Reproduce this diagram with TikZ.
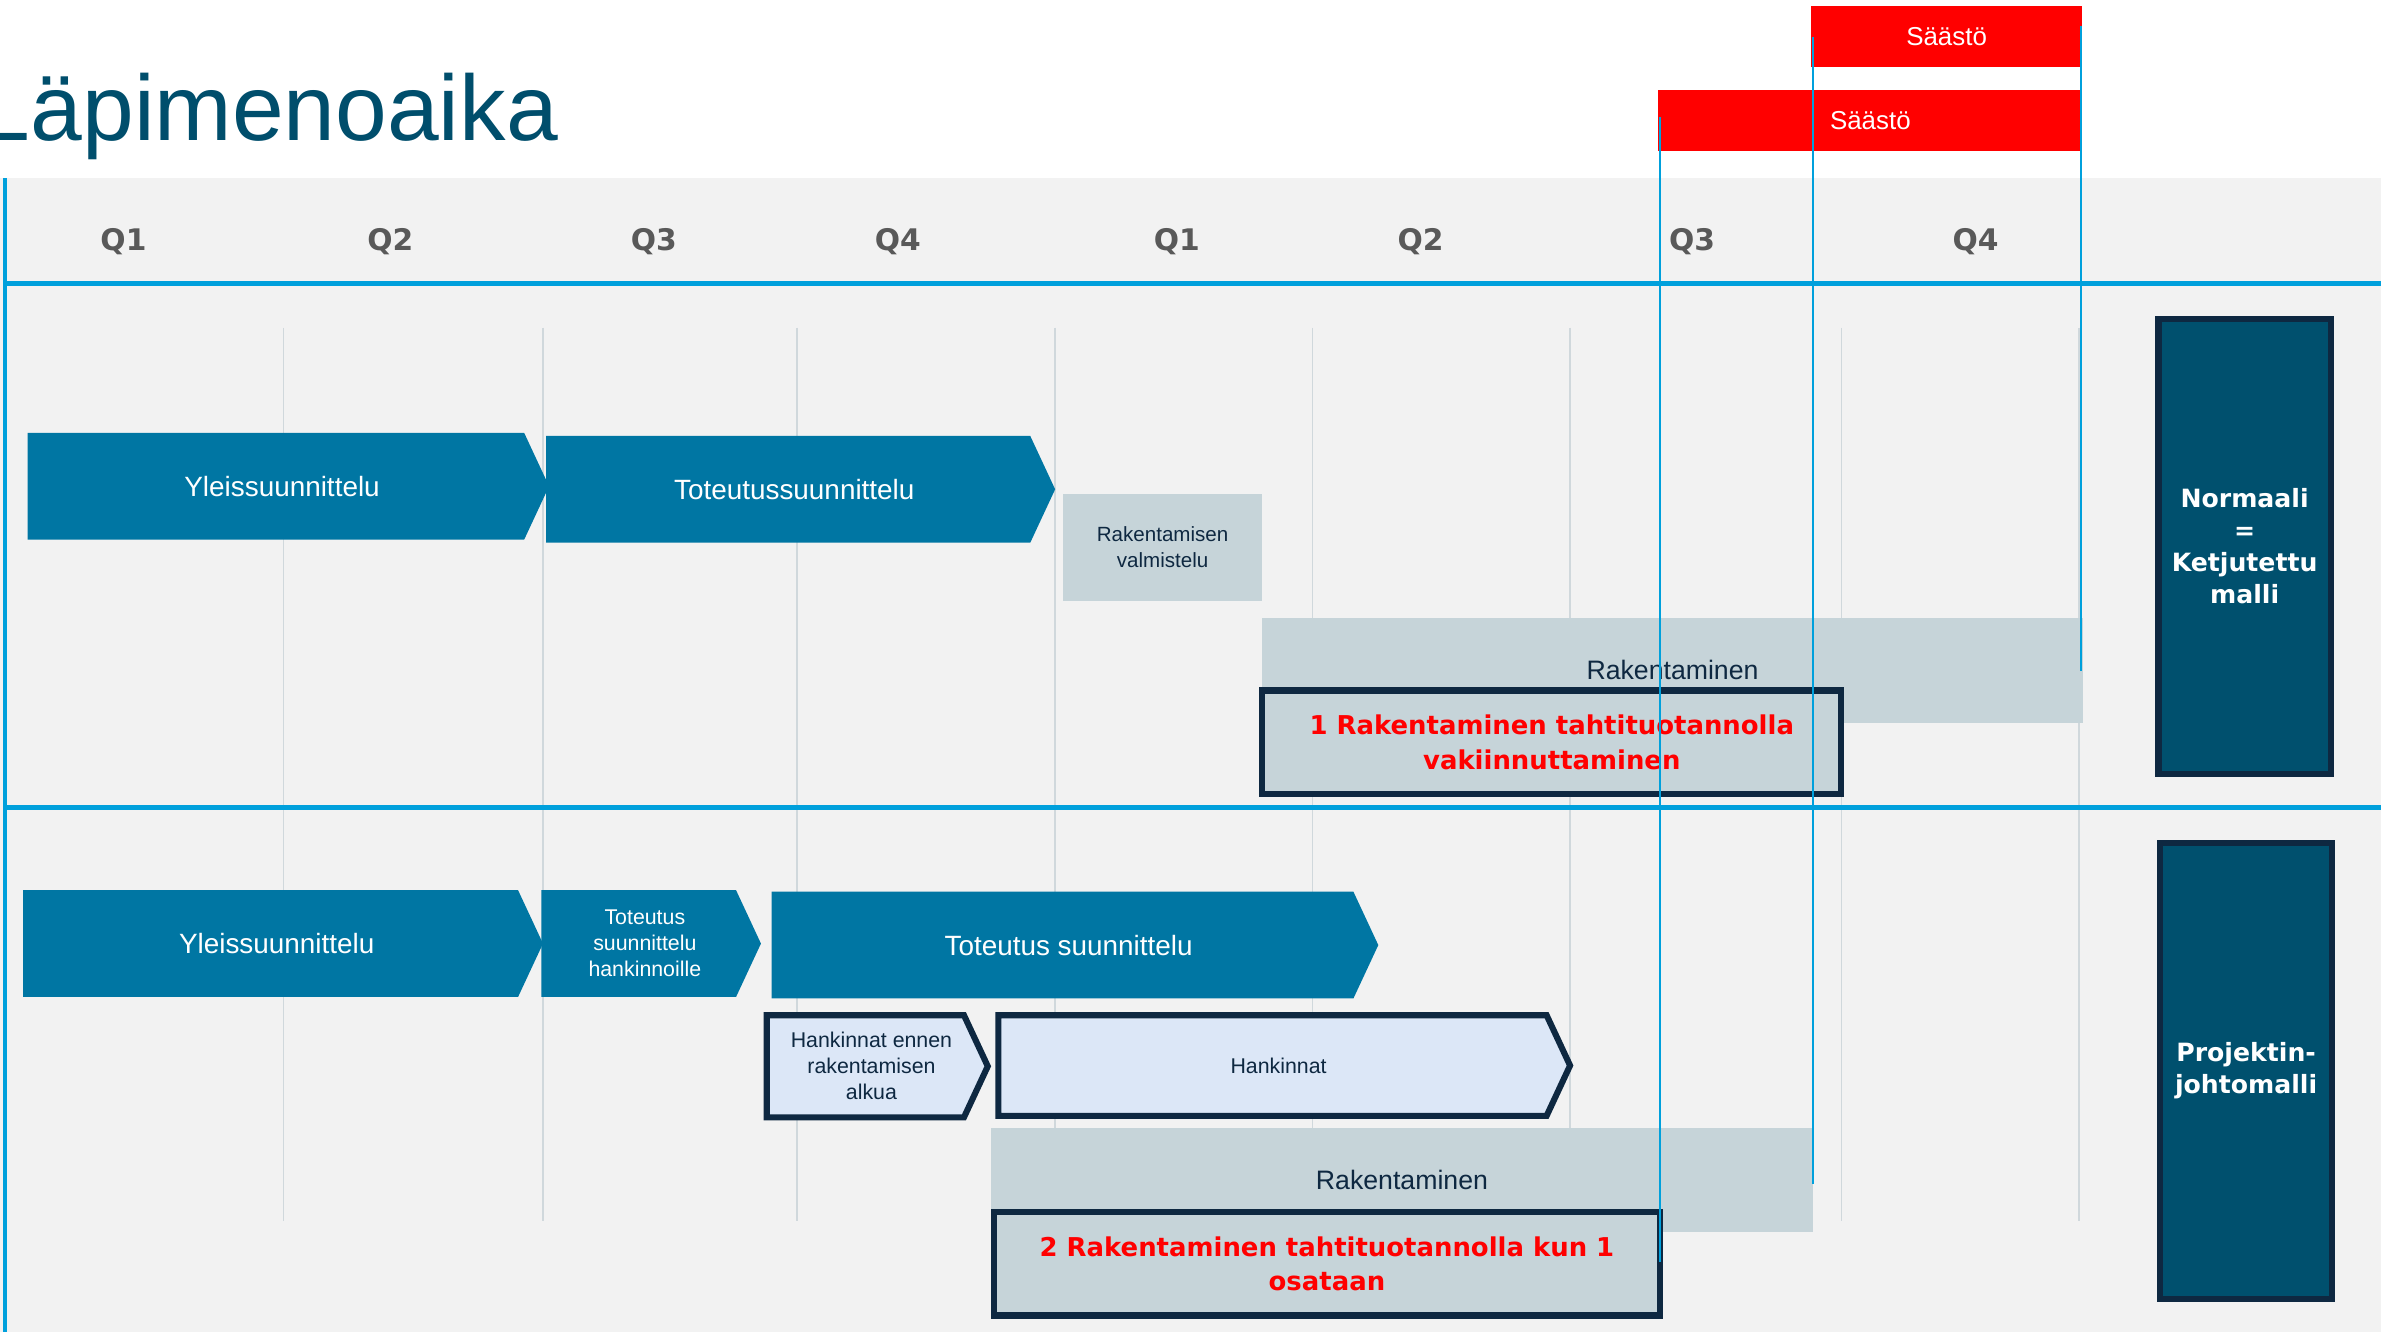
\documentclass[tikz,border=0pt]{standalone}
\usepackage{fontspec}
\setmainfont{Liberation Sans}
\newfontfamily\heavyfont{DejaVu Sans}
\usetikzlibrary{shapes.symbols}
\definecolor{titleblue}{RGB}{0,78,108}
\definecolor{lineblue}{RGB}{0,160,220}
\definecolor{phaseblue}{RGB}{0,118,163}
\definecolor{bargray}{RGB}{198,212,217}
\definecolor{navy}{RGB}{14,40,65}
\definecolor{modelteal}{RGB}{0,80,110}
\definecolor{paleblue}{RGB}{220,231,247}
\definecolor{bggray}{RGB}{242,242,242}
\definecolor{gridgray}{RGB}{208,216,220}
\definecolor{qgray}{RGB}{89,89,89}
\definecolor{savered}{RGB}{255,0,0}
\begin{document}
\begin{tikzpicture}[x=1pt,y=-1pt]
  \tikzstyle{phase}=[signal, signal to=east, signal pointer angle=130, fill=phaseblue, inner sep=0pt, anchor=west]
  \tikzstyle{buy}=[signal, signal to=east, signal pointer angle=130, fill=paleblue, draw=navy, line width=4pt, inner sep=0pt, anchor=west]
  \tikzstyle{phasetext}=[text=white, inner sep=0pt, align=center, font=\fontsize{18.3}{22}\selectfont]
  \tikzstyle{buytext}=[text=navy, inner sep=0pt, align=center, font=\fontsize{14}{17}\selectfont]
  \tikzstyle{bar}=[rectangle, fill=bargray, text=navy, inner sep=0pt, anchor=north west, align=center, font=\fontsize{17.5}{21}\selectfont]
  \tikzstyle{goal}=[rectangle, fill=bargray, draw=navy, line width=4pt, text=savered, inner sep=0pt, anchor=north west, align=center, font=\heavyfont\bfseries\fontsize{17}{22.5}\selectfont]
  \tikzstyle{model}=[rectangle, fill=modelteal, draw=navy, line width=4pt, text=white, inner sep=0pt, anchor=north west, align=center, minimum width=113, minimum height=299, font=\heavyfont\bfseries\fontsize{16.5}{21}\selectfont]
  \tikzstyle{saving}=[rectangle, fill=savered, text=white, inner sep=0pt, minimum height=40, font=\fontsize{17}{20}\selectfont]
  \tikzstyle{quarter}=[text=qgray, inner sep=0pt, font=\heavyfont\bfseries\fontsize{19.5}{23}\selectfont]
  \useasboundingbox (0,0) rectangle (1562,874);
  % background and time axis
  \fill[bggray] (0,117) rectangle (1562,874);
  \foreach \x in {186,356,523,692,861,1030,1208,1364}
    \draw[gridgray, line width=1.2pt] (\x,215) -- (\x,801);
  \draw[lineblue, line width=3.2pt] (3.3,117) -- (3.3,874);
  \draw[lineblue, line width=3.2pt] (3.3,186) -- (1562,186);
  \draw[lineblue, line width=3.4pt] (3.3,530) -- (1562,530);
  \node[anchor=base west, inner sep=0pt, text=titleblue, font=\fontsize{61}{72}\selectfont] (title) at (-14,92) {Läpimenoaika};
  \foreach \q/\x [count=\i] in {Q1/81, Q2/256, Q3/429, Q4/589, Q1/772, Q2/932, Q3/1110, Q4/1296}
    \node[quarter] (q\i) at (\x,158.5) {\q};
  % ketjutettu malli
  \node[phase, minimum width=342, minimum height=70] (ys1) at (18,319) {};
  \node[phasetext] (ys1t) at ([xshift=4pt]ys1.center) {Yleissuunnittelu};
  \node[phase, minimum width=334, minimum height=70] (tt1) at (358,321) {};
  \node[phasetext] (tt1t) at ([xshift=4pt]tt1.center) {Toteutussuunnittelu};
  \node[bar, minimum width=131, minimum height=70, font=\fontsize{13.5}{17}\selectfont] (valm) at (697,324) {Rakentamisen\\valmistelu};
  \node[bar, minimum width=538, minimum height=69] (rak1) at (828,405) {Rakentaminen};
  \node[goal, minimum width=380, minimum height=68] (goal1) at (826,451) {1 Rakentaminen tahtituotannolla\\vakiinnuttaminen};
  \node[model] (norm) at (1414,207) {Normaali\\=\\Ketjutettu\\malli};
  % projektinjohtomalli
  \node[phase, minimum width=341, minimum height=70] (ys2) at (15,619) {};
  \node[phasetext] (ys2t) at ([xshift=4pt]ys2.center) {Yleissuunnittelu};
  \node[phase, minimum width=144, minimum height=70] (ts2) at (355,619) {};
  \node[phasetext, font=\fontsize{14}{17}\selectfont] (ts2t) at ([xshift=4pt]ts2.center) {Toteutus\\suunnittelu\\hankinnoille};
  \node[phase, minimum width=398, minimum height=70] (tt2) at (506,620) {};
  \node[phasetext] (tt2t) at ([xshift=4pt]tt2.center) {Toteutus suunnittelu};
  \node[buy, minimum width=145, minimum height=67] (hk1) at (501,699.5) {};
  \node[buytext] (hk1t) at ([xshift=4pt]hk1.center) {Hankinnat ennen\\rakentamisen\\alkua};
  \node[buy, minimum width=375, minimum height=66] (hk2) at (653,699) {};
  \node[buytext] (hk2t) at ([xshift=4pt]hk2.center) {Hankinnat};
  \node[bar, minimum width=539, minimum height=68] (rak2) at (650,740) {Rakentaminen};
  \node[goal, minimum width=437, minimum height=68] (goal2) at (650,793) {2 Rakentaminen tahtituotannolla kun 1\\osataan};
  \node[model] (proj) at (1415,551) {Projektin-\\johtomalli};
  % saasto
  \node[saving, minimum width=178] (save1) at (1277,24) {Säästö};
  \node[saving, minimum width=278] (save2) at (1227,79) {Säästö};
  \draw[lineblue, line width=1.2pt] (1089,77) -- (1089,828);
  \draw[lineblue, line width=1.2pt] (1189.5,24) -- (1189.5,777);
  \draw[lineblue, line width=1.2pt] (1365,17) -- (1365,440);
\end{tikzpicture}
\end{document}
